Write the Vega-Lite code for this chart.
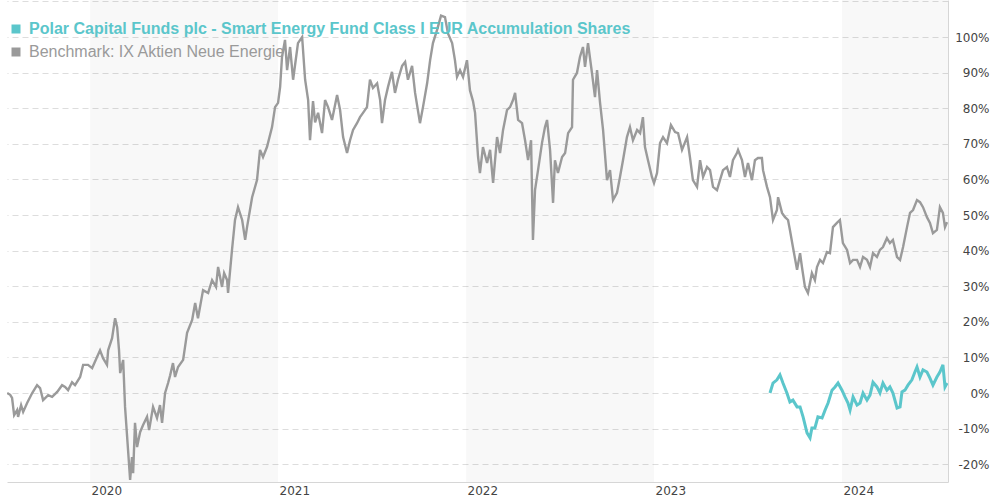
{
  "$schema": "https://vega.github.io/schema/vega-lite/v6.json",
  "width": 941,
  "height": 482,
  "autosize": {"type": "none"},
  "padding": {"left": 7, "top": 0, "right": 42, "bottom": 18},
  "background": "white",
  "config": {
    "view": {"stroke": null},
    "font": "DejaVu Sans",
    "axisY": {"labelOverlap": false}
  },
  "datasets": {
    "bands": [
      {"start": 2020, "end": 2021},
      {"start": 2022, "end": 2023},
      {"start": 2024, "end": 2025}
    ],
    "bench": [
      {"t": 2019.559, "v": 0}, {"t": 2019.575, "v": -0.5}, {"t": 2019.585, "v": -1.4}, {"t": 2019.596, "v": -6.2},
      {"t": 2019.612, "v": -4.8}, {"t": 2019.617, "v": -6.7}, {"t": 2019.633, "v": -3.4}, {"t": 2019.644, "v": -5.3},
      {"t": 2019.665, "v": -2.8}, {"t": 2019.692, "v": 0}, {"t": 2019.718, "v": 2.2}, {"t": 2019.734, "v": 1.4},
      {"t": 2019.75, "v": -2}, {"t": 2019.777, "v": -0.6}, {"t": 2019.798, "v": -1.1}, {"t": 2019.825, "v": 0.3},
      {"t": 2019.851, "v": 2.2}, {"t": 2019.867, "v": 1.7}, {"t": 2019.883, "v": 0.8}, {"t": 2019.904, "v": 3},
      {"t": 2019.920, "v": 2.2}, {"t": 2019.947, "v": 4.5}, {"t": 2019.963, "v": 7.9}, {"t": 2019.989, "v": 7.9},
      {"t": 2020.011, "v": 7}, {"t": 2020.037, "v": 10.1}, {"t": 2020.053, "v": 12}, {"t": 2020.069, "v": 9.8},
      {"t": 2020.090, "v": 7.9}, {"t": 2020.096, "v": 12}, {"t": 2020.117, "v": 15.4}, {"t": 2020.133, "v": 21},
      {"t": 2020.144, "v": 18.5}, {"t": 2020.154, "v": 12}, {"t": 2020.160, "v": 5.6}, {"t": 2020.176, "v": 9.3},
      {"t": 2020.186, "v": -3.9}, {"t": 2020.202, "v": -16}, {"t": 2020.213, "v": -24.4}, {"t": 2020.223, "v": -18},
      {"t": 2020.229, "v": -22.5}, {"t": 2020.239, "v": -8.4}, {"t": 2020.250, "v": -15.2}, {"t": 2020.266, "v": -11},
      {"t": 2020.282, "v": -9}, {"t": 2020.303, "v": -6.7}, {"t": 2020.314, "v": -10.4}, {"t": 2020.335, "v": -3.9},
      {"t": 2020.356, "v": -7}, {"t": 2020.372, "v": -3.4}, {"t": 2020.383, "v": -8.4}, {"t": 2020.399, "v": 0},
      {"t": 2020.415, "v": 2.8}, {"t": 2020.426, "v": 5}, {"t": 2020.441, "v": 8.4}, {"t": 2020.452, "v": 4.5},
      {"t": 2020.468, "v": 7.3}, {"t": 2020.495, "v": 9.3}, {"t": 2020.516, "v": 16.9}, {"t": 2020.543, "v": 20.5},
      {"t": 2020.559, "v": 25.3}, {"t": 2020.574, "v": 21}, {"t": 2020.601, "v": 28.9}, {"t": 2020.628, "v": 28.1},
      {"t": 2020.649, "v": 31.7}, {"t": 2020.670, "v": 29.8}, {"t": 2020.681, "v": 35.4}, {"t": 2020.702, "v": 29.8},
      {"t": 2020.713, "v": 33.7}, {"t": 2020.729, "v": 31.7}, {"t": 2020.734, "v": 28.1}, {"t": 2020.755, "v": 40.2},
      {"t": 2020.771, "v": 48.6}, {"t": 2020.787, "v": 52.2}, {"t": 2020.809, "v": 48.6}, {"t": 2020.825, "v": 43},
      {"t": 2020.835, "v": 46.6}, {"t": 2020.862, "v": 55}, {"t": 2020.888, "v": 59.8}, {"t": 2020.904, "v": 68.3},
      {"t": 2020.920, "v": 66.3}, {"t": 2020.941, "v": 69.1}, {"t": 2020.968, "v": 74.7}, {"t": 2020.984, "v": 80.3},
      {"t": 2021.000, "v": 81.5}, {"t": 2021.011, "v": 86}, {"t": 2021.021, "v": 94.4}, {"t": 2021.037, "v": 99.2},
      {"t": 2021.048, "v": 90.7}, {"t": 2021.064, "v": 97.2}, {"t": 2021.080, "v": 88}, {"t": 2021.106, "v": 98.3},
      {"t": 2021.128, "v": 100}, {"t": 2021.144, "v": 88}, {"t": 2021.160, "v": 82.3}, {"t": 2021.170, "v": 71},
      {"t": 2021.186, "v": 82}, {"t": 2021.197, "v": 76}, {"t": 2021.213, "v": 78.7}, {"t": 2021.234, "v": 73},
      {"t": 2021.250, "v": 82.3}, {"t": 2021.266, "v": 80.3}, {"t": 2021.287, "v": 76.7}, {"t": 2021.314, "v": 83.7},
      {"t": 2021.330, "v": 79.5}, {"t": 2021.346, "v": 71.9}, {"t": 2021.367, "v": 67.4}, {"t": 2021.383, "v": 71},
      {"t": 2021.399, "v": 73.9}, {"t": 2021.420, "v": 75.8}, {"t": 2021.436, "v": 77.5}, {"t": 2021.452, "v": 78.7},
      {"t": 2021.473, "v": 80.3}, {"t": 2021.489, "v": 88}, {"t": 2021.505, "v": 85.7}, {"t": 2021.527, "v": 87},
      {"t": 2021.543, "v": 82.3}, {"t": 2021.553, "v": 75.8}, {"t": 2021.569, "v": 82.3}, {"t": 2021.585, "v": 86},
      {"t": 2021.606, "v": 90.2}, {"t": 2021.622, "v": 84.3}, {"t": 2021.638, "v": 88}, {"t": 2021.660, "v": 91.9},
      {"t": 2021.676, "v": 93}, {"t": 2021.691, "v": 88}, {"t": 2021.713, "v": 91.9}, {"t": 2021.729, "v": 84.3},
      {"t": 2021.755, "v": 75.8}, {"t": 2021.771, "v": 80.3}, {"t": 2021.793, "v": 87}, {"t": 2021.809, "v": 93.5},
      {"t": 2021.824, "v": 98.3}, {"t": 2021.846, "v": 102}, {"t": 2021.867, "v": 106}, {"t": 2021.888, "v": 105.6},
      {"t": 2021.904, "v": 101}, {"t": 2021.926, "v": 98.3}, {"t": 2021.941, "v": 93.5}, {"t": 2021.952, "v": 88.8},
      {"t": 2021.968, "v": 90.7}, {"t": 2021.984, "v": 88.8}, {"t": 2022.005, "v": 93.5}, {"t": 2022.021, "v": 85},
      {"t": 2022.037, "v": 82}, {"t": 2022.048, "v": 78.7}, {"t": 2022.064, "v": 66.3}, {"t": 2022.074, "v": 61.8},
      {"t": 2022.090, "v": 69.1}, {"t": 2022.112, "v": 64.6}, {"t": 2022.128, "v": 68.3}, {"t": 2022.144, "v": 59},
      {"t": 2022.165, "v": 71.9}, {"t": 2022.181, "v": 67.4}, {"t": 2022.197, "v": 73.9}, {"t": 2022.218, "v": 79.5},
      {"t": 2022.234, "v": 80.3}, {"t": 2022.250, "v": 82.3}, {"t": 2022.261, "v": 84.3}, {"t": 2022.277, "v": 76.7},
      {"t": 2022.298, "v": 75.8}, {"t": 2022.314, "v": 71}, {"t": 2022.330, "v": 65.4}, {"t": 2022.346, "v": 71},
      {"t": 2022.356, "v": 43}, {"t": 2022.367, "v": 57}, {"t": 2022.383, "v": 62.6}, {"t": 2022.404, "v": 70.2},
      {"t": 2022.420, "v": 74.7}, {"t": 2022.431, "v": 76.7}, {"t": 2022.447, "v": 68.3}, {"t": 2022.463, "v": 53.4},
      {"t": 2022.473, "v": 65.4}, {"t": 2022.489, "v": 61.8}, {"t": 2022.511, "v": 66.3}, {"t": 2022.527, "v": 67.4},
      {"t": 2022.543, "v": 73}, {"t": 2022.564, "v": 74.7}, {"t": 2022.569, "v": 88}, {"t": 2022.590, "v": 89.9},
      {"t": 2022.606, "v": 94.4}, {"t": 2022.622, "v": 97.2}, {"t": 2022.633, "v": 91.6}, {"t": 2022.649, "v": 98.3},
      {"t": 2022.670, "v": 89.9}, {"t": 2022.686, "v": 83.1}, {"t": 2022.697, "v": 90.7}, {"t": 2022.713, "v": 81.5},
      {"t": 2022.729, "v": 73.9}, {"t": 2022.750, "v": 59.8}, {"t": 2022.766, "v": 62.6}, {"t": 2022.782, "v": 54.2},
      {"t": 2022.803, "v": 56.2}, {"t": 2022.819, "v": 60.7}, {"t": 2022.835, "v": 65.4}, {"t": 2022.856, "v": 71.9},
      {"t": 2022.872, "v": 74.7}, {"t": 2022.888, "v": 71}, {"t": 2022.910, "v": 73.9}, {"t": 2022.926, "v": 73},
      {"t": 2022.941, "v": 77.5}, {"t": 2022.952, "v": 69.1}, {"t": 2022.968, "v": 65.4}, {"t": 2022.989, "v": 60.7},
      {"t": 2023.000, "v": 59}, {"t": 2023.016, "v": 61.8}, {"t": 2023.032, "v": 70.2}, {"t": 2023.048, "v": 71.9},
      {"t": 2023.069, "v": 70.2}, {"t": 2023.090, "v": 75.3}, {"t": 2023.112, "v": 73.3}, {"t": 2023.128, "v": 73},
      {"t": 2023.149, "v": 68.3}, {"t": 2023.176, "v": 71.9}, {"t": 2023.191, "v": 66.3}, {"t": 2023.207, "v": 59.8},
      {"t": 2023.229, "v": 57.9}, {"t": 2023.245, "v": 65.4}, {"t": 2023.261, "v": 60.7}, {"t": 2023.282, "v": 63.5},
      {"t": 2023.298, "v": 62.6}, {"t": 2023.314, "v": 57.9}, {"t": 2023.335, "v": 57}, {"t": 2023.351, "v": 59.8},
      {"t": 2023.367, "v": 62.6}, {"t": 2023.388, "v": 63.5}, {"t": 2023.404, "v": 60.7}, {"t": 2023.420, "v": 65.4},
      {"t": 2023.441, "v": 67.4}, {"t": 2023.447, "v": 68.3}, {"t": 2023.468, "v": 65.4}, {"t": 2023.484, "v": 60.7},
      {"t": 2023.500, "v": 64.6}, {"t": 2023.521, "v": 59.8}, {"t": 2023.537, "v": 65.4}, {"t": 2023.553, "v": 66},
      {"t": 2023.574, "v": 66}, {"t": 2023.580, "v": 62.6}, {"t": 2023.601, "v": 57.9}, {"t": 2023.617, "v": 55},
      {"t": 2023.633, "v": 48.6}, {"t": 2023.654, "v": 51.4}, {"t": 2023.660, "v": 55}, {"t": 2023.681, "v": 50.6},
      {"t": 2023.697, "v": 49.4}, {"t": 2023.713, "v": 48.6}, {"t": 2023.723, "v": 45.8}, {"t": 2023.739, "v": 41},
      {"t": 2023.761, "v": 34.6}, {"t": 2023.777, "v": 39.3}, {"t": 2023.787, "v": 35.4}, {"t": 2023.803, "v": 29.8},
      {"t": 2023.819, "v": 28.1}, {"t": 2023.840, "v": 33.7}, {"t": 2023.856, "v": 31.7}, {"t": 2023.867, "v": 35.4},
      {"t": 2023.883, "v": 37.4}, {"t": 2023.899, "v": 36.5}, {"t": 2023.920, "v": 39.6}, {"t": 2023.936, "v": 39.3},
      {"t": 2023.952, "v": 46.6}, {"t": 2023.973, "v": 47.8}, {"t": 2023.989, "v": 48.6}, {"t": 2024.005, "v": 42.1},
      {"t": 2024.027, "v": 40.2}, {"t": 2024.043, "v": 36.5}, {"t": 2024.059, "v": 37.4}, {"t": 2024.080, "v": 37.4},
      {"t": 2024.096, "v": 35.4}, {"t": 2024.112, "v": 38.2}, {"t": 2024.133, "v": 37.4}, {"t": 2024.149, "v": 35.4},
      {"t": 2024.165, "v": 39.3}, {"t": 2024.186, "v": 38.2}, {"t": 2024.202, "v": 40.2}, {"t": 2024.218, "v": 41},
      {"t": 2024.239, "v": 43.5}, {"t": 2024.255, "v": 42.1}, {"t": 2024.271, "v": 43}, {"t": 2024.293, "v": 38.2},
      {"t": 2024.309, "v": 37.4}, {"t": 2024.325, "v": 41}, {"t": 2024.346, "v": 46.6}, {"t": 2024.362, "v": 50.6},
      {"t": 2024.378, "v": 51.4}, {"t": 2024.399, "v": 54.2}, {"t": 2024.415, "v": 53.6}, {"t": 2024.431, "v": 52.2},
      {"t": 2024.452, "v": 49.4}, {"t": 2024.468, "v": 47.8}, {"t": 2024.484, "v": 44.9}, {"t": 2024.505, "v": 45.8},
      {"t": 2024.521, "v": 52.2}, {"t": 2024.537, "v": 50.6}, {"t": 2024.548, "v": 46.6}, {"t": 2024.559, "v": 48}
    ],
    "fund": [
      {"t": 2023.617, "v": 0}, {"t": 2023.633, "v": 2.8}, {"t": 2023.654, "v": 3.7}, {"t": 2023.670, "v": 5.1},
      {"t": 2023.686, "v": 2.8}, {"t": 2023.707, "v": 0}, {"t": 2023.723, "v": -2.5}, {"t": 2023.739, "v": -2},
      {"t": 2023.761, "v": -3.9}, {"t": 2023.777, "v": -3.9}, {"t": 2023.793, "v": -6.7}, {"t": 2023.814, "v": -11.2},
      {"t": 2023.830, "v": -12.6}, {"t": 2023.840, "v": -9.8}, {"t": 2023.856, "v": -9.8}, {"t": 2023.872, "v": -6.7},
      {"t": 2023.894, "v": -7}, {"t": 2023.910, "v": -4.8}, {"t": 2023.926, "v": -2.8}, {"t": 2023.947, "v": 0.8},
      {"t": 2023.963, "v": 1.7}, {"t": 2023.979, "v": 2.8}, {"t": 2024.000, "v": 0.8}, {"t": 2024.016, "v": -1.1},
      {"t": 2024.032, "v": -2.8}, {"t": 2024.043, "v": -4.8}, {"t": 2024.059, "v": -1.1}, {"t": 2024.080, "v": -3.4},
      {"t": 2024.096, "v": -2.8}, {"t": 2024.112, "v": 0}, {"t": 2024.133, "v": -2}, {"t": 2024.149, "v": -0.6},
      {"t": 2024.165, "v": 3}, {"t": 2024.186, "v": 1.7}, {"t": 2024.202, "v": 0}, {"t": 2024.218, "v": 2.8},
      {"t": 2024.239, "v": 0.8}, {"t": 2024.255, "v": 1.7}, {"t": 2024.271, "v": 0}, {"t": 2024.293, "v": -4.2},
      {"t": 2024.309, "v": -3.9}, {"t": 2024.319, "v": 0.3}, {"t": 2024.335, "v": 0.8}, {"t": 2024.351, "v": 2.2},
      {"t": 2024.372, "v": 3.7}, {"t": 2024.388, "v": 5.9}, {"t": 2024.399, "v": 7.3}, {"t": 2024.415, "v": 4.5},
      {"t": 2024.431, "v": 6.5}, {"t": 2024.452, "v": 5.9}, {"t": 2024.468, "v": 4.2}, {"t": 2024.484, "v": 2.2},
      {"t": 2024.505, "v": 4.5}, {"t": 2024.521, "v": 5.9}, {"t": 2024.537, "v": 7.9}, {"t": 2024.548, "v": 1.7},
      {"t": 2024.559, "v": 2.8}
    ]
  },
  "layer": [
    {
      "data": {"name": "bands"},
      "mark": {"type": "rect", "color": "#000000", "opacity": 0.028, "clip": true},
      "encoding": {
        "x": {
          "field": "start", "type": "quantitative",
          "scale": {"domain": [2019.558, 2024.564], "nice": false, "zero": false},
          "axis": {
            "values": [2020, 2021, 2022, 2023, 2024],
            "format": "d",
            "title": null,
            "grid": false,
            "ticks": false,
            "domainColor": "#d6d6d6",
            "domainWidth": 1,
            "labelAlign": "left",
            "labelBaseline": "top",
            "labelPadding": 3,
            "labelOffset": 1,
            "labelFont": "DejaVu Sans",
            "labelFontSize": 12,
            "labelColor": "#444444",
            "labelFlush": false,
            "labelOverlap": false
          }
        },
        "x2": {"field": "end"}
      }
    },
    {
      "data": {"name": "bench"},
      "mark": {"type": "line", "strokeWidth": 2.4, "clip": true},
      "encoding": {
        "x": {"field": "t", "type": "quantitative"},
        "y": {
          "field": "v", "type": "quantitative",
          "scale": {"domain": [-25, 110.4], "nice": false, "zero": false},
          "axis": {
            "orient": "right",
            "values": [-20, -10, 0, 10, 20, 30, 40, 50, 60, 70, 80, 90, 100, 110],
            "labelExpr": "datum.value > 100 ? '' : datum.value + '%'",
            "title": null,
            "grid": true,
            "gridDash": [6, 4],
            "gridColor": "#dddddd",
            "gridWidth": 1,
            "ticks": false,
            "domainColor": "#d6d6d6",
            "labelAlign": "right",
            "labelBaseline": "middle",
            "labelPadding": 41,
            "labelFont": "DejaVu Sans",
            "labelFontSize": 12,
            "labelColor": "#444444",
            "labelFlush": false,
            "labelOverlap": false
          }
        },
        "color": {
          "datum": "Benchmark: IX Aktien Neue Energie",
          "scale": {
            "domain": ["Polar Capital Funds plc - Smart Energy Fund Class I EUR Accumulation Shares", "Benchmark: IX Aktien Neue Energie"],
            "range": ["#5bc6cb", "#9a9a9a"]
          },
          "legend": {
            "orient": "none",
            "legendX": 1,
            "legendY": 21,
            "title": null,
            "padding": 0,
            "symbolType": "square",
            "symbolSize": 81,
            "symbolStrokeWidth": 0,
            "labelFont": "Liberation Sans",
            "labelFontSize": 16,
            "labelLimit": 0,
            "labelOffset": 5,
            "rowPadding": 7,
            "encode": {
              "symbols": {"update": {
                "fill": {"signal": "datum.value === 'Benchmark: IX Aktien Neue Energie' ? '#9a9a9a' : '#5bc6cb'"},
                "stroke": {"value": "transparent"}
              }},
              "labels": {"update": {
                "fill": {"signal": "datum.value === 'Benchmark: IX Aktien Neue Energie' ? '#9a9a9a' : '#5bc6cb'"},
                "fontWeight": {"signal": "datum.value === 'Benchmark: IX Aktien Neue Energie' ? 'normal' : 'bold'"}
              }}
            }
          }
        }
      }
    },
    {
      "data": {"name": "fund"},
      "mark": {"type": "line", "strokeWidth": 3, "clip": true},
      "encoding": {
        "x": {"field": "t", "type": "quantitative"},
        "y": {
          "field": "v", "type": "quantitative",
          "axis": {
            "orient": "right",
            "values": [-20, -10, 0, 10, 20, 30, 40, 50, 60, 70, 80, 90, 100, 110],
            "labelExpr": "datum.value > 100 ? '' : datum.value + '%'",
            "title": null,
            "grid": true,
            "gridDash": [6, 4],
            "gridColor": "#dddddd",
            "gridWidth": 1,
            "ticks": false,
            "domainColor": "#d6d6d6",
            "labelAlign": "right",
            "labelBaseline": "middle",
            "labelPadding": 41,
            "labelFont": "DejaVu Sans",
            "labelFontSize": 12,
            "labelColor": "#444444",
            "labelFlush": false,
            "labelOverlap": false
          }
        },
        "color": {"datum": "Polar Capital Funds plc - Smart Energy Fund Class I EUR Accumulation Shares"}
      }
    }
  ]
}
